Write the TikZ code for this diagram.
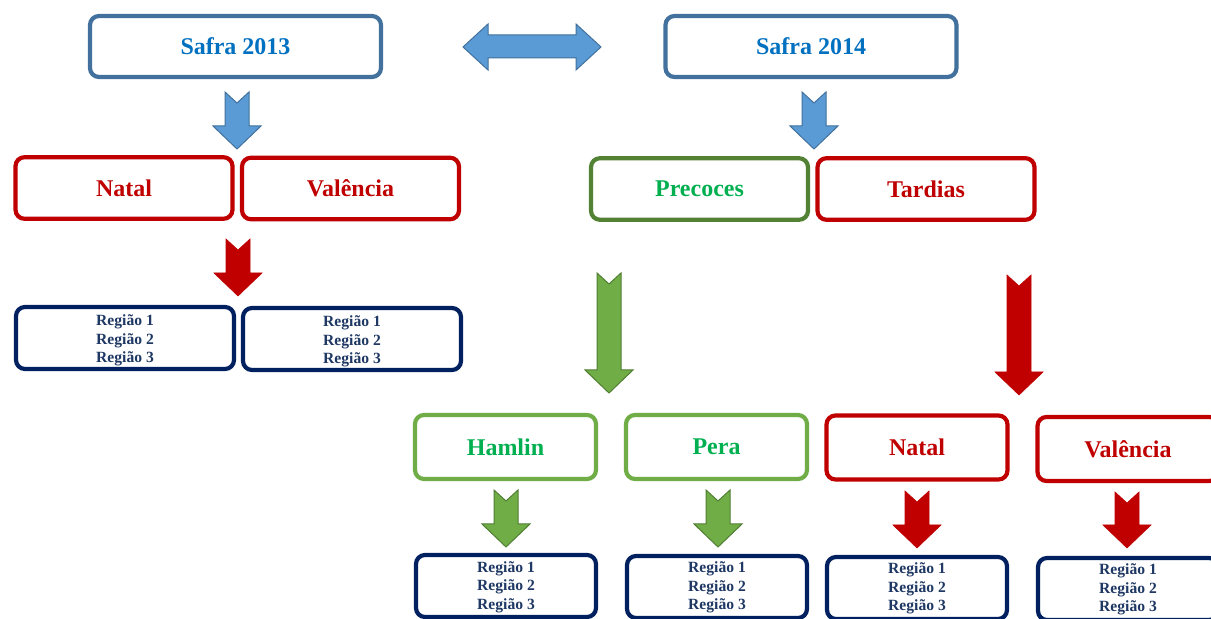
\documentclass[tikz,border=0pt]{standalone}
\usepackage{fontspec}
\setmainfont{Liberation Serif}
\definecolor{sblue}{HTML}{41719C}
\definecolor{tblue}{HTML}{0070C0}
\definecolor{ablue}{HTML}{5B9BD5}
\definecolor{dred}{HTML}{C00000}
\definecolor{dgreen}{HTML}{548235}
\definecolor{lgreen}{HTML}{70AD47}
\definecolor{agreen}{HTML}{507E32}
\definecolor{tgreen}{HTML}{00B050}
\definecolor{navy}{HTML}{002060}
\definecolor{tnavy}{HTML}{1F3864}
\tikzset{
  box/.style={rounded corners=4.5pt, line width=2.1pt, inner sep=0pt, align=center, fill=white,
    font=\bfseries\fontsize{12}{14}\selectfont},
  bigbox/.style={box, minimum width=108.5pt, minimum height=30.8pt},
  topbox/.style={box, draw=sblue, text=tblue, minimum width=145.5pt, minimum height=30.5pt},
  midbox/.style={box, minimum width=90.5pt, minimum height=32pt},
  regbox/.style={box, draw=navy},
  regtext/.style={inner sep=0pt, align=center, text=tnavy, font=\bfseries\fontsize{7.8}{9.2}\selectfont},
  regA/.style={regbox, minimum width=109pt, minimum height=31pt},
  regB/.style={regbox, minimum width=90pt, minimum height=31pt},
  bluearrow/.style={fill=ablue, draw=sblue, line width=0.5pt},
  redarrow/.style={fill=dred, draw=dred, line width=0.3pt},
  greenarrow/.style={fill=lgreen, draw=agreen, line width=0.5pt},
  pics/notched/.style 2 args={code={
    \path[#2] (-12,0) -- (0,11) -- (12,0) -- (12,#1-23) -- (24,#1-23) -- (0,#1)
      -- (-24,#1-23) -- (-12,#1-23) -- cycle;
  }}
}
\begin{document}
\begin{tikzpicture}[x=0.5pt,y=-0.5pt]
\useasboundingbox (0,0) rectangle (1211,619);
\clip (0,0) rectangle (1211,619);
\fill[white] (0,0) rectangle (1211,619);

% top row
\node[topbox] (s13) at (235.5,46.5) {Safra 2013};
\node[topbox] (s14) at (811,46.5) {Safra 2014};
\path[bluearrow] (463,47) -- (488,24) -- (488,35) -- (576,35) -- (576,24) -- (601,47)
  -- (576,70) -- (576,58) -- (488,58) -- (488,70) -- cycle;

% arrows from top
\pic at (237,92) {notched={57}{bluearrow}};
\pic at (814,92) {notched={57}{bluearrow}};

% second row
\node[bigbox, draw=dred, text=dred] (natalA) at (124,188) {Natal};
\node[bigbox, draw=dred, text=dred] (valA) at (350.5,188.5) {Valência};
\node[bigbox, draw=dgreen, text=tgreen] (prec) at (699.5,189) {Precoces};
\node[bigbox, draw=dred, text=dred] (tard) at (926,189) {Tardias};

% left branch
\pic at (238,239) {notched={57}{redarrow}};
\node[regA] (rA1) at (125,338) {};
\node[regtext] (rA1t) at ([yshift=-1.2pt]rA1.center) {Região 1\\Região 2\\Região 3};
\node[regA] (rA2) at (352,339) {};
\node[regtext] (rA2t) at ([yshift=-1.2pt]rA2.center) {Região 1\\Região 2\\Região 3};

% big arrows
\pic at (609,273) {notched={120}{greenarrow}};
\pic at (1019,275) {notched={120}{redarrow}};

% third row
\node[midbox, draw=lgreen, text=tgreen] (ham) at (505.5,447) {Hamlin};
\node[midbox, draw=lgreen, text=tgreen] (pera) at (716.5,447) {Pera};
\node[midbox, draw=dred, text=dred] (natalB) at (917,447.5) {Natal};
\node[midbox, draw=dred, text=dred] (valB) at (1128,449) {Valência};

% small arrows
\pic at (506,490) {notched={57}{greenarrow}};
\pic at (718,490) {notched={57}{greenarrow}};
\pic at (917,491) {notched={57}{redarrow}};
\pic at (1127,492) {notched={56}{redarrow}};

% bottom row
\node[regB] (rB1) at (506,586) {};
\node[regtext] (rB1t) at ([yshift=-0.6pt]rB1.center) {Região 1\\Região 2\\Região 3};
\node[regB] (rB2) at (717,587) {};
\node[regtext] (rB2t) at ([yshift=-0.3pt]rB2.center) {Região 1\\Região 2\\Região 3};
\node[regB] (rB3) at (917,588) {};
\node[regtext] (rB3t) at ([yshift=-0.3pt]rB3.center) {Região 1\\Região 2\\Região 3};
\node[regB] (rB4) at (1128,589) {};
\node[regtext] (rB4t) at ([yshift=-0.3pt]rB4.center) {Região 1\\Região 2\\Região 3};
\end{tikzpicture}
\end{document}
